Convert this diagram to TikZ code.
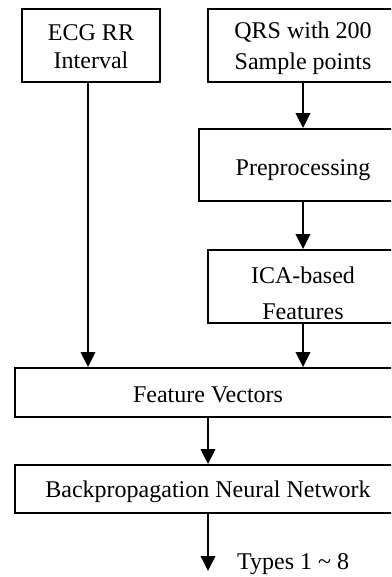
\documentclass[tikz,border=0pt]{standalone}
\usepackage{fontspec}
\setmainfont{Liberation Serif}
\usetikzlibrary{arrows.meta}
\begin{document}
\begin{tikzpicture}[x=1pt,y=-1pt,
  box/.style={draw,line width=1.9pt,rectangle,inner sep=0pt,align=center,
    font=\fontsize{24}{32}\selectfont,text depth=0pt},
  flow/.style={line width=1.9pt,-{Triangle[length=15pt,width=14.5pt]}},
  lbl/.style={font=\fontsize{24}{26}\selectfont,inner sep=0pt}]
\useasboundingbox (0,0) rectangle (391,577);
\clip (0,0) rectangle (391,577);
% input blocks
\node[box,minimum width=138,minimum height=73,text height=47pt,
  font=\fontsize{24}{28}\selectfont] (ecg) at (91,45.5) {ECG RR\\Interval};
\node[box,minimum width=190,minimum height=73,text height=49pt,
  font=\fontsize{24}{31.5}\selectfont] (qrs) at (303,45.5) {QRS with 200\\Sample points};
% QRS processing chain
\node[box,minimum width=208,minimum height=72,text height=22pt] (pre) at (303,165) {Preprocessing};
\node[box,minimum width=190,minimum height=73,text height=65pt,
  font=\fontsize{24}{36}\selectfont] (ica) at (303,286.5) {ICA-based\\Features};
% merged features and classifier
\node[box,minimum width=386,minimum height=49,text height=19pt] (fv) at (208,392.5) {Feature Vectors};
\node[box,minimum width=386,minimum height=48,text height=16pt] (bp) at (208,489) {Backpropagation Neural Network};
\coordinate (out) at (208,571);
\node[lbl,anchor=base west] (types) at (237,569.5) {Types 1 \textasciitilde{} 8};
% connectors
\draw[flow] (qrs.south) -- (pre.north);
\draw[flow] (pre.south) -- (ica.north);
\draw[flow] (ica.south) -- (ica.south |- fv.north);
\draw[flow] (ecg.south -| 88,0) -- (88,0 |- fv.north);
\draw[flow] (fv.south) -- (bp.north);
\draw[flow] (bp.south) -- (out);
\end{tikzpicture}
\end{document}
